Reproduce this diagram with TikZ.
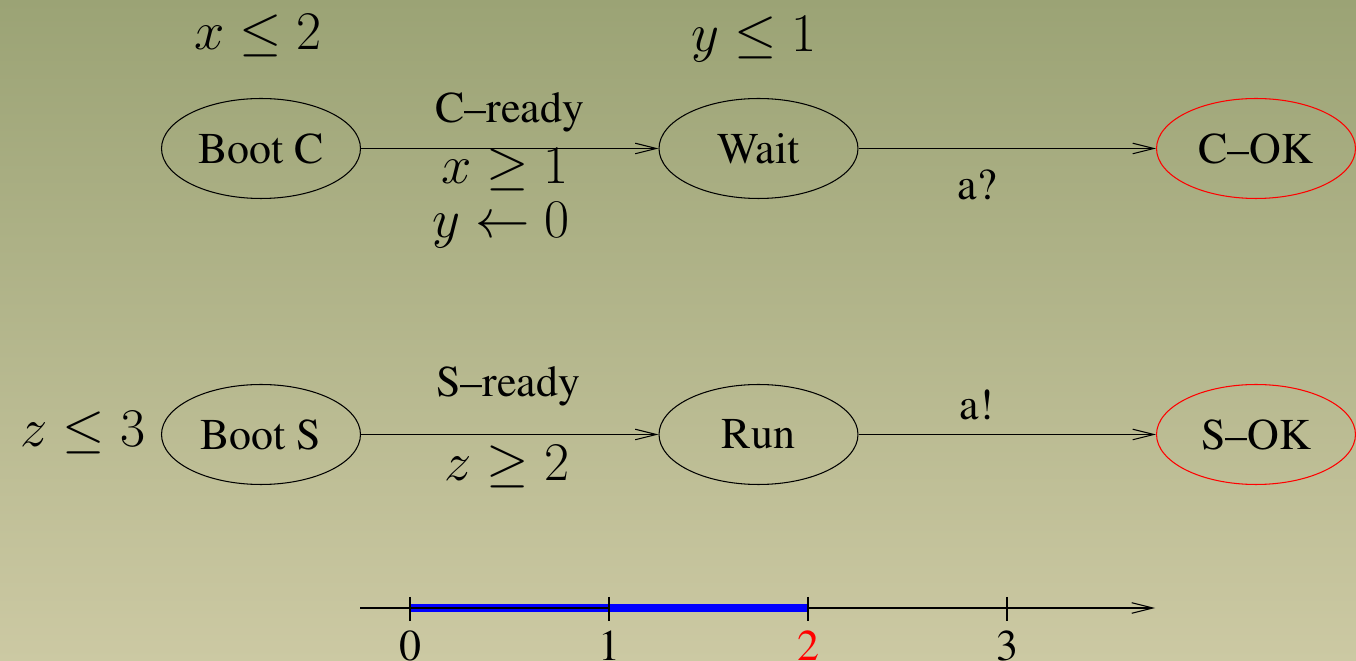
\RequirePackage{fix-cm}
\documentclass[tikz,border=0pt]{standalone}
\newcommand{\tnr}{\fontencoding{OT1}\fontfamily{ptm}\selectfont}
\usetikzlibrary{shapes.geometric,arrows.meta}
\definecolor{bgtop}{RGB}{155,163,117}
\definecolor{bgbot}{RGB}{204,201,163}
\tikzset{
  state/.style={ellipse,draw,line width=0.6pt,minimum width=3.98cm,minimum height=2cm,inner sep=0pt,font=\tnr\fontsize{25}{30}\selectfont},
  final/.style={state,draw=red},
  trans/.style={line width=0.6pt,-{Straight Barb[length=12pt,width=6pt]}},
  lbl/.style={font=\tnr\fontsize{25}{30}\selectfont,inner sep=0pt},
  mlbl/.style={font=\fontsize{31}{36}\selectfont,inner sep=0pt},
}
\begin{document}
\begin{tikzpicture}[x=0.02cm,y=-0.02cm]
\shade[top color=bgtop,bottom color=bgbot] (0,0) rectangle (1356,661);
\useasboundingbox (0,0) rectangle (1356,661);
% automaton C
\node[state] (bootc) at (261,148.5) {Boot C};
\node[state] (wait) at (758.5,148.5) {Wait};
\node[final] (cok) at (1256,148.5) {C--OK};
\draw[trans] (bootc) -- (wait);
\draw[trans] (wait) -- (cok);
\node[mlbl] (invc) at (258,36) {$x\leq 2$};
\node[mlbl] (invw) at (754,39) {$y\leq 1$};
\node[lbl] (cready) at (510,112) {C--ready};
\node[mlbl] (gx) at (505,170) {$x\geq 1$};
\node[mlbl] (ry) at (501,225) {$y\leftarrow 0$};
\node[lbl] (aq) at (977,185) {a?};
% automaton S
\node[state] (boots) at (261,434.5) {Boot S};
\node[state] (run) at (758.5,434.5) {Run};
\node[final] (sok) at (1256,434.5) {S--OK};
\draw[trans] (boots) -- (run);
\draw[trans] (run) -- (sok);
\node[mlbl] (invs) at (83,433) {$z\leq 3$};
\node[lbl] (sready) at (508,386) {S--ready};
\node[lbl] (ae) at (977,405) {a!};
\node[mlbl] (gz) at (507,467) {$z\geq 2$};
% time axis
\coordinate (ax0) at (360,608);
\coordinate (ax1) at (1155,608);
\draw[trans] (ax0) -- (ax1);
\draw[blue,line width=4.5pt] (410,608) -- (808,608);
\draw[line width=0.6pt] (410,608) -- (609,608);
\foreach \x/\t/\c in {410/0/black,609/1/black,808/2/red,1007/3/black}{
  \draw[line width=0.6pt] (\x,597) -- (\x,621);
  \node[lbl,anchor=north,text=\c] at (\x,630) {\t};
}
\end{tikzpicture}
\end{document}
